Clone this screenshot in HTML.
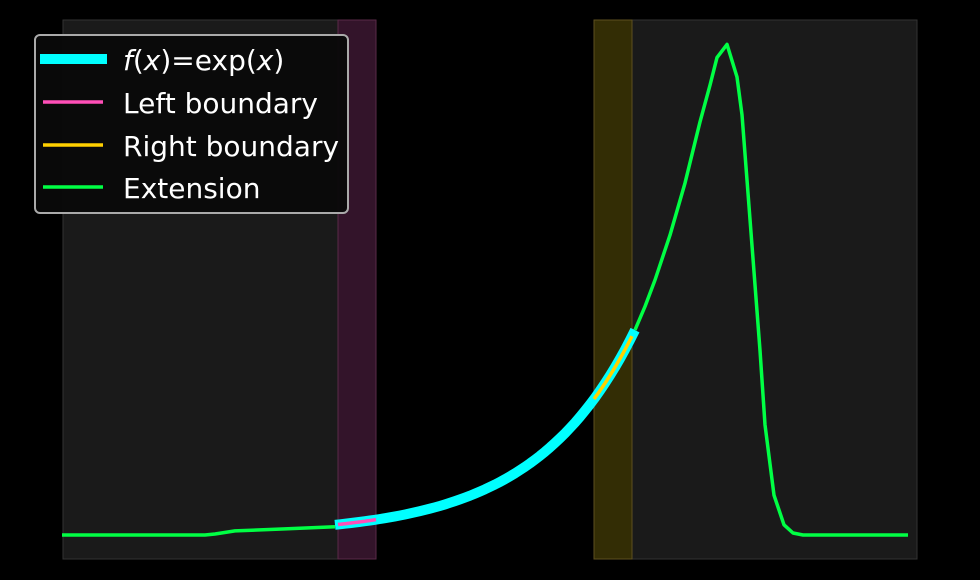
<!DOCTYPE html>
<html><head><meta charset="utf-8"><style>
html,body{margin:0;padding:0;background:#000;}
svg{display:block;font-family:"DejaVu Sans","Liberation Sans",sans-serif;}
</style></head><body>
<svg id="chart" width="980" height="580">
<rect x="63" y="20" width="313" height="539" fill="#1a1a1a" stroke="#333"/>
<rect x="594" y="20" width="323" height="539" fill="#1a1a1a" stroke="#333"/>
<rect x="338" y="20" width="38" height="539" fill="#33142a" stroke="#5a2a48"/>
<rect x="594" y="20" width="38" height="539" fill="#332d05" stroke="#5e5020"/>
<g id="marks"></g>
<g>
<rect x="35" y="35" width="313" height="178" rx="5" fill="#0a0a0a" fill-opacity="0.95" stroke="#aaa" stroke-width="2"/>
<line x1="40" y1="59" x2="107" y2="59" stroke="#00ffff" stroke-width="10"/>
<line x1="43" y1="102" x2="103" y2="102" stroke="#ff4fb8" stroke-width="3.5"/>
<line x1="43" y1="145" x2="103" y2="145" stroke="#ffd000" stroke-width="3.5"/>
<line x1="43" y1="187" x2="103" y2="187" stroke="#00ff44" stroke-width="3.5"/>
<text x="123" y="70" font-size="28" fill="#fff"><tspan font-style="italic">f</tspan>(<tspan font-style="italic">x</tspan>)=exp(<tspan font-style="italic">x</tspan>)</text>
<text x="123" y="113" font-size="28" fill="#fff">Left boundary</text>
<text x="123" y="156" font-size="28" fill="#fff">Right boundary</text>
<text x="123" y="198" font-size="28" fill="#fff">Extension</text>
</g>
</svg>
<script>
const extLeftX = [-2.73,-1.3,-1.2,-1.0,-0.5,0];
const extLeftY = [0,0,0.1,0.4,0.6,0.8];
const extRightX = [3.0,3.1,3.2,3.35,3.5,3.65,3.75,3.82,3.92,4.02,4.07,4.12,4.25,4.3,4.39,4.49,4.58,4.68,5.73];
const extRightY = [20.1,22.4,25.0,29.4,34.5,40.5,44.1,46.8,48.1,44.9,41.2,34.8,18.1,10.8,3.9,1.0,0.2,0,0];
const fDomain = [0,3];
const leftBoundary = [0.03,0.41];
const rightBoundary = [2.59,2.97];
const sx = v => 335 + v*100;
const sy = v => 535 - v*10.2;
const g = document.getElementById('marks');
const NS = 'http://www.w3.org/2000/svg';
function pathFrom(xs, ys){return xs.map((x,i)=>(i?'L':'M')+sx(x).toFixed(1)+','+sy(ys[i]).toFixed(1)).join('');}
function expPath(a,b){const xs=[],ys=[];for(let i=0;i<=60;i++){const x=a+(b-a)*i/60;xs.push(x);ys.push(Math.exp(x));}return pathFrom(xs,ys);}
function addPath(d,color,w){const p=document.createElementNS(NS,'path');p.setAttribute('d',d);p.setAttribute('fill','none');p.setAttribute('stroke',color);p.setAttribute('stroke-width',w);p.setAttribute('stroke-linejoin','round');g.appendChild(p);return p;}
const extL = addPath(pathFrom(extLeftX,extLeftY),'#00ff44',3.5);


const extR = addPath(pathFrom(extRightX,extRightY),'#00ff44',3.5);


const fl = addPath(expPath(fDomain[0],fDomain[1]),'#00ffff',10);


const lb = addPath(expPath(leftBoundary[0],leftBoundary[1]),'#ff4fb8',3.5);


const rb = addPath(expPath(rightBoundary[0],rightBoundary[1]),'#ffd000',3.5);


</script>
</body></html>
